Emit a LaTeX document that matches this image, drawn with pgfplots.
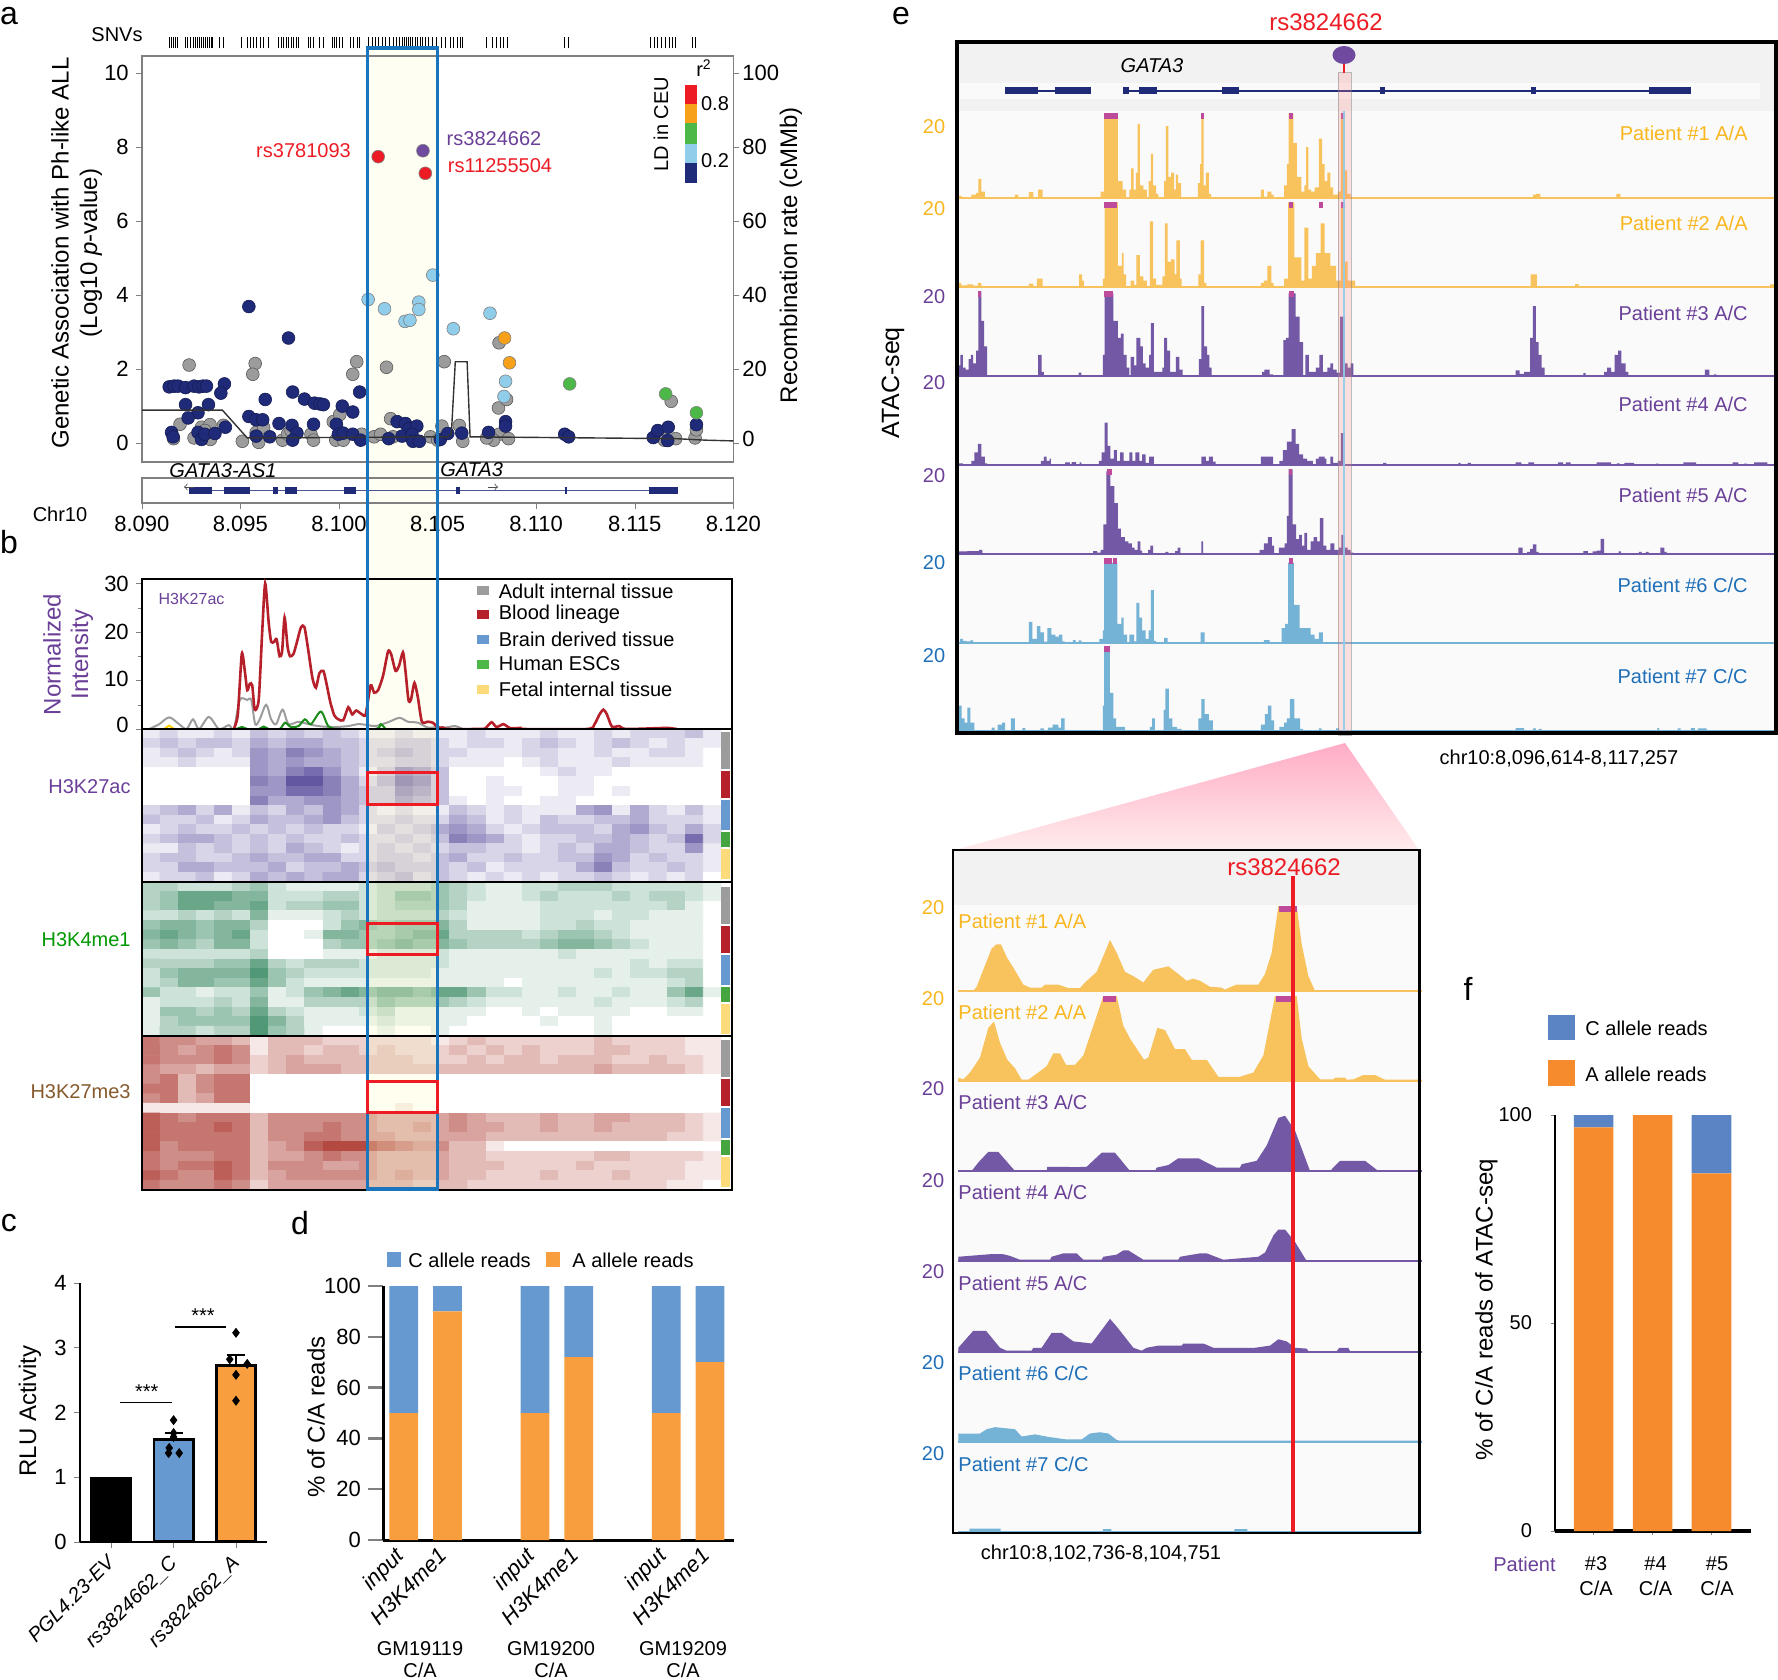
\documentclass[border=0pt]{standalone}
\usepackage{fontspec}
\setmainfont{Liberation Sans}
\usepackage{pgfplots}
\pgfplotsset{compat=1.18}
\definecolor{navy}{HTML}{1F2A78}
\definecolor{gr}{HTML}{9C9C9C}
\definecolor{lb}{HTML}{8FCDEA}
\definecolor{org}{HTML}{F7A11A}
\definecolor{grn}{HTML}{4CB848}
\definecolor{rd}{HTML}{ED1C24}
\definecolor{pur}{HTML}{6F4A9E}
\definecolor{bluebox}{HTML}{1B75BC}
\definecolor{darkred}{HTML}{B5202A}
\definecolor{tyel}{HTML}{F9B61E}
\definecolor{tpur}{HTML}{6A3F98}
\definecolor{tblu}{HTML}{1E6FB8}
\definecolor{fyel}{HTML}{F8C25C}
\definecolor{fpur}{HTML}{7358A5}
\definecolor{fblu}{HTML}{74B3D6}
\definecolor{pkc}{HTML}{BE4A9C}
\definecolor{barb}{HTML}{6699CF}
\definecolor{baro}{HTML}{F89E3F}
\definecolor{barb2}{HTML}{5B84C4}
\definecolor{baro2}{HTML}{F68B2E}
\newcommand\sz[1]{\fontsize{#1}{#1}\selectfont}
\pgfplotsset{
  colormap={hpur}{rgb255=(255,255,255) rgb255=(62,46,140)},
  colormap={hgrn}{rgb255=(255,255,255) rgb255=(8,110,60)},
  colormap={hred}{rgb255=(255,255,255) rgb255=(165,40,30)},
  box/.style n args={4}{at={(#1*0.5pt,-#4*0.5pt)},anchor=south west,
    width={(#3-(#1))*0.5pt},height={(#4-(#2))*0.5pt},scale only axis},
  every axis/.append style={tick label style={font=\sz{10}},
    /pgf/number format/assume math mode=true},
  atac/.style={hide axis,clip=false,ymin=0,ymax=20},
}
\newcommand\pk[2]{\addplot[draw=none,fill=pkc] coordinates {(#1,18.6)(#1,20)(#2,20)(#2,18.6)};}
% base line y in px, colour, coordinates, pink bars
\newcommand\trk[4]{\begin{axis}[atac,box={957}{#1-84.7}{1776}{#1},xmin=150,xmax=1565]
\addplot[const plot,fill=#2,draw=none] coordinates {#3}\closedcycle;
#4
\addplot[#2,line width=1.25pt] coordinates {(150,0)(1565,0)};
\end{axis}}
\newcommand\ztrk[4]{\begin{axis}[atac,box={958.3}{#1-85}{1421.7}{#1},xmin=115,xmax=1505]
\addplot[fill=#2,draw=none] coordinates {#3}\closedcycle;
#4
\addplot[#2,line width=1pt] coordinates {(115,0)(1505,0)};
\end{axis}}
\newcommand\heat[5]{\begin{axis}[hide axis,box={141.8}{#1}{721.4}{#2},xmin=-0.5,xmax=31.5,ymin=-0.5,ymax=15.5,y dir=reverse,
  colormap name=#3,point meta min=0,point meta max=#4]
\addplot[matrix plot*,mesh/cols=32,point meta=explicit] table[row sep=crcr,x expr={mod(\coordindex,32)},y expr={floor((\coordindex+0.5)/32)},meta=v] {v\\
#5};
\end{axis}}
\newcommand\ex[2]{\addplot[navy,line width=3.5pt] coordinates {(#1,0.5)(#2,0.5)};}
\begin{document}
\begin{tikzpicture}[x=0.5pt,y=-0.5pt,tx/.style={inner sep=0pt,font=\sz{10}}]
\path[use as bounding box] (0,0) rectangle (1778,1680);
% highlight band behind a and b
\fill[yellow!5] (367.7,48) rectangle (437.8,729);

% ---- panel a
\begin{axis}[hide axis,box={141.8}{37.5}{733.3}{48},xmin=285,xmax=1474,ymin=0,ymax=1]
\addplot[ycomb,black,line width=0.45pt] table[row sep=crcr,y expr=1] {x\\340\\344\\348\\352\\356\\372\\377\\383\\388\\392\\396\\400\\404\\408\\412\\416\\420\\424\\428\\442\\450\\485\\497\\503\\510\\516\\523\\530\\540\\560\\565\\570\\575\\580\\585\\590\\595\\600\\620\\625\\630\\642\\650\\668\\672\\677\\682\\688\\705\\710\\718\\722\\740\\748\\755\\760\\768\\775\\783\\790\\797\\803\\808\\812\\816\\820\\825\\830\\835\\840\\845\\850\\856\\862\\870\\878\\888\\896\\905\\912\\920\\925\\930\\978\\990\\998\\1005\\1012\\1020\\1134\\1142\\1308\\1315\\1322\\1330\\1338\\1345\\1352\\1358\\1392\\1398\\};
\end{axis}
\begin{axis}[box={141.8}{56}{733.3}{462},xmin=0,xmax=30,ymin=-0.51,ymax=10.46,xtick=\empty,ytick={0,2,...,10},ytick pos=left,
  tick align=outside,major tick length=3pt,axis line style={gray,line width=0.8pt},ytick style={gray},clip=false,tick label style={font=\sz{11}}]
\addplot[only marks,mark=*,mark size=3.2pt,mark options={fill=gr,draw=gray!70!black,line width=0.3pt}] coordinates {
(2.4,2.11)(5.75,2.15)(5.63,1.86)(10.9,2.2)(10.7,1.86)(12.41,2.05)(15.34,2.2)(18.12,2.71)(18.09,.95)(18.5,1.18)(26.85,1.13)
(1.94,.51)(1.61,.12)(2.65,.14)(3.03,.43)(3.46,.5)(3.2,.34)(3.48,.1)(4.14,.48)(5.1,.05)(5.8,.29)(6.18,.42)(5.93,.02)(7.14,.08)
(7.39,.24)(7.57,.34)(8.58,.24)(8.71,.08)(9.71,.58)(10.04,.77)(9.84,.08)(10.22,.08)(11.15,.24)(11.78,.17)(12.11,.24)(12.62,.66)
(12.74,.17)(13.75,.08)(14.64,.17)(15.01,.08)(15.22,.46)(16.1,.48)(16.28,.05)(18.12,.24)(17.84,.08)(17.49,.14)(18.6,.12)
(26.5,.08)(27.08,.12)(28.06,.14)(28.13,.36)};
\addplot[only marks,mark=*,mark size=3.2pt,mark options={fill=navy,draw=navy!70!black,line width=0.3pt}] coordinates {
(1.39,1.52)(1.64,1.54)(1.84,1.54)(2.22,1.5)(2.65,1.54)(2.9,1.52)(3.1,1.54)(3.28,1.54)(4.19,1.6)(4.01,1.35)(2.22,1.04)(3.38,1.04)
(2.85,.82)(2.35,.68)(4.24,.43)(1.51,.29)(1.59,.17)(2.85,.29)(3.03,.1)(3.2,.24)(3.71,.26)(5.43,3.69)(7.44,2.84)(7.65,1.38)(8.25,1.19)
(8.76,1.08)(9.03,1.06)(9.21,1.04)(6.26,1.18)(10.17,1.0)(11.05,1.38)(10.7,.84)(5.43,.72)(5.8,.63)(6.13,.63)(5.8,.19)(6.49,.17)(6.96,.53)
(7.62,.48)(7.87,.27)(7.65,.08)(8.71,.51)(9.87,.51)(9.97,.24)(10.22,.27)(10.7,.24)(11.1,.08)(12.95,.58)(12.52,.12)(13.37,.53)(13.55,.39)
(13.95,.46)(13.2,.19)(13.7,.24)(13.75,.05)(14.08,.05)(15.14,.1)(15.52,.26)(16.23,.27)(17.59,.29)(18.45,.58)(18.45,.46)(21.45,.24)(21.65,.17)
(25.94,.15)(26.17,.34)(26.7,.43)(26.67,.07)(28.13,.5)};
\addplot[only marks,mark=*,mark size=3.2pt,mark options={fill=lb,draw=gray,line width=0.3pt}] coordinates {
(11.48,3.88)(12.31,3.63)(13.35,3.29)(13.6,3.32)(14.05,3.81)(14.05,3.61)(14.76,4.54)(15.8,3.09)(17.66,3.51)(18.45,1.67)(18.37,1.26)};
\addplot[only marks,mark=*,mark size=3.2pt,mark options={fill=org,draw=gray,line width=0.3pt}] coordinates {(18.4,2.84)(18.65,2.17)};
\addplot[only marks,mark=*,mark size=3.2pt,mark options={fill=grn,draw=gray,line width=0.3pt}] coordinates {(21.7,1.6)(26.57,1.33)(28.13,.82)};
\addplot[only marks,mark=*,mark size=3.2pt,mark options={fill=rd,draw=gray,line width=0.3pt}] coordinates {(11.99,7.74)(14.38,7.29)};
\addplot[only marks,mark=*,mark size=3.2pt,mark options={fill=pur,draw=gray,line width=0.3pt}] coordinates {(14.26,7.9)};
\end{axis}
\begin{axis}[box={141.8}{56}{733.3}{462},xmin=0,xmax=30,ymin=-5.1,ymax=104.6,axis x line=none,axis y line*=right,
  ytick={0,20,...,100},yticklabels={\raisebox{4.5pt}{0},20,40,60,80,100},tick align=outside,major tick length=3pt,
  axis line style={gray,line width=0.8pt},ytick style={gray},tick label style={font=\sz{11}},yticklabel style={xshift=-2pt}]
\addplot[black!80,line width=0.7pt] coordinates {(0,8.9)(4.09,8.9)(5.35,1.4)(15.5,1.7)(15.7,2.5)(15.9,22)(16.5,22)(16.65,1.7)(27.1,1.2)(28.6,.8)(30,.6)};
\end{axis}
\begin{axis}[box={141.8}{478}{733.3}{503},xmin=0,xmax=30,ymin=0,ymax=1,ytick=\empty,xtick={0,5,...,30},
  xticklabels={8.090,8.095,8.100,8.105,8.110,8.115,8.120},xtick pos=bottom,tick align=outside,major tick length=3pt,
  axis line style={gray,line width=0.8pt},xtick style={gray},tick label style={font=\sz{11}}]
\addplot[navy!80,line width=0.8pt] coordinates {(2.4,.5)(27.2,.5)};
\ex{2.4}{3.58}\ex{4.16}{5.5}\ex{6.64}{6.89}\ex{7.24}{7.87}\ex{10.27}{10.85}\ex{15.95}{16.12}\ex{21.45}{21.57}\ex{25.71}{27.2}
\end{axis}
\node[tx,font=\sz{10}] at (117,35) {SNVs};
\node[tx,font=\sz{12},rotate=90] at (60,253) {Genetic Association with Ph-like ALL};
\node[tx,font=\sz{12},rotate=90] at (91,253) {(Log10 \textit{p}-value)};
\node[tx,font=\sz{12},rotate=90] at (791,255) {Recombination rate (cMMb)};
\node[tx,text=rd] at (303.5,151) {rs3781093};
\node[tx,text=tpur] at (494,139) {rs3824662};
\node[tx,text=rd] at (500,166) {rs11255504};
\node[tx,font=\sz{10}\itshape] at (223,471) {GATA3-AS1};
\node[tx,font=\sz{10}\itshape] at (471.6,470) {GATA3};
\draw[->,black!70,line width=0.4pt] (194,487)--(184,487);
\draw[->,black!70,line width=0.4pt] (488,487)--(498,487);
\node[tx] at (60,514) {Chr10};
\fill[rd] (685,84.6) rectangle (697,104.3);
\fill[org] (685,104.3) rectangle (697,123.2);
\fill[grn] (685,123.2) rectangle (697,143.6);
\fill[lb] (685,143.6) rectangle (697,163.2);
\fill[navy] (685,163.2) rectangle (697,182.9);
\node[tx] at (715,104) {0.8};
\node[tx] at (715,161) {0.2};
\node[tx] at (704,68) {r\textsuperscript{2}};
\node[tx,rotate=90] at (661,124) {LD in CEU};
\node[tx,font=\sz{16}] at (9,16) {a};
\node[tx,font=\sz{16}] at (9,542) {b};
\node[tx,font=\sz{16}] at (9,1223) {c};
\node[tx,font=\sz{16}] at (300,1223) {d};
\node[tx,font=\sz{16}] at (901,16) {e};
\node[tx,font=\sz{16}] at (1468,989) {f};

% ---- panel b, line chart
\begin{axis}[box={141.8}{578.7}{732.3}{729},xmin=285,xmax=1472,ymin=0,ymax=31,xtick=\empty,ytick={0,10,20,30},
  yticklabels={\raisebox{4.5pt}{0},\raisebox{2pt}{10},20,30},minor ytick={5,15,25},
  ytick pos=left,tick align=outside,major tick length=3pt,minor tick length=2pt,axis line style={line width=1pt},tick label style={font=\sz{11}}]
\addplot[gr,line width=1pt,smooth] coordinates {(300,0)(320,1)(340,2.4)(360,1)(375,0)(388,2)(400,0)(420,2.5)(440,0)(460,.8)(470,0)(482,6)(497,6)(505,6)(513,1)(522,2)(535,5)(545,2)(555,1)(568,4)(580,1)(600,1.5)(620,1)(640,.6)(670,.4)(700,.6)(720,1)(740,.8)(755,.6)(780,1.4)(803,2.3)(820,1.5)(840,1.3)(860,.3)(880,.4)(895,.3)(915,.6)(930,0)};
\addplot[green!50!black!90,line width=1pt,smooth] coordinates {(475,0)(487,.4)(497,0)(520,0)(530,.5)(540,0)(562,0)(573,1.3)(585,.4)(600,.6)(613,2)(625,1)(645,3.6)(660,.6)(680,0)(755,0)(765,1)(775,0)};
\addplot[yellow!70!orange,line width=1pt] coordinates {(330,0)(340,.7)(350,0)};
\addplot[darkred,line width=1.3pt,smooth,tension=0.4] coordinates {(470,0)(478,3)(486,15.5)(492,12)(497,8)(502,9.3)(507,9)(512,4)(520,6)(527,20)(533,30)(540,22)(545,18)(551,18)(556,18.5)(562,15)(567,16)(572,23)(578,17)(583,15)(590,15.5)(597,18)(605,21)(612,21)(620,16)(628,10.5)(635,8.5)(642,11.5)(650,12)(657,9)(664,5.5)(672,2.8)(680,2)(690,1.8)(700,4.5)(708,3)(716,3.8)(728,3)(735,3)(745,9)(752,7.5)(760,8)(770,11)(780,16)(786,15.5)(795,12)(802,13)(810,15.8)(815,12)(821,6)(826,6)(833,9.5)(840,6.5)(848,1.5)(860,1.5)(870,1.3)(880,.3)(890,.3)(900,0)(960,0)(975,.1)(988,1.4)(998,.4)(1012,1)(1025,.2)(1045,.2)(1050,0)(1180,0)(1195,1)(1205,3)(1213,4)(1220,3)(1230,.5)(1245,.6)(1258,0)(1330,.2)(1345,.2)(1360,0)};
\end{axis}
\node[tx,font=\sz{8},text=tpur] at (191.5,599) {H3K27ac};
\node[tx,font=\sz{12},text=tpur,rotate=90] at (52,654.5) {Normalized};
\node[tx,font=\sz{12},text=tpur,rotate=90] at (82,654.5) {Intensity};
\fill[gr] (476.6,586) rectangle (488.6,595);
\fill[darkred] (476.6,610) rectangle (488.6,619);
\fill[barb] (476.6,634.5) rectangle (488.6,643.5);
\fill[grn] (476.6,659.5) rectangle (488.6,668.5);
\fill[yellow!50!orange!50] (476.6,684.5) rectangle (488.6,693.5);
\node[tx,anchor=west] at (498.5,591) {Adult internal tissue};
\node[tx,anchor=west] at (498.5,614.5) {Blood lineage};
\node[tx,anchor=west] at (498.5,639) {Brain derived tissue};
\node[tx,anchor=west] at (498.5,664) {Human ESCs};
\node[tx,anchor=west] at (498.5,689) {Fetal internal tissue};

% ---- heat maps, intensity 0-9 estimated by eye per cell
\heat{729}{882}{hpur}{10}{
1\\2\\1\\1\\2\\1\\3\\2\\3\\2\\3\\2\\1\\1\\2\\1\\1\\1\\2\\1\\1\\1\\2\\1\\1\\2\\1\\2\\2\\2\\3\\1\\
2\\3\\2\\3\\3\\2\\4\\3\\4\\4\\3\\3\\2\\2\\3\\3\\2\\1\\2\\2\\1\\2\\3\\2\\1\\2\\3\\2\\1\\2\\1\\1\\
1\\2\\3\\2\\1\\2\\5\\4\\6\\5\\4\\3\\2\\3\\4\\3\\2\\2\\1\\1\\1\\2\\2\\1\\1\\2\\1\\1\\2\\2\\1\\0\\
1\\1\\2\\1\\1\\1\\5\\4\\5\\4\\4\\3\\2\\2\\3\\3\\2\\1\\1\\1\\0\\1\\2\\1\\1\\1\\2\\1\\1\\1\\1\\0\\
0\\0\\0\\0\\0\\0\\5\\4\\6\\7\\5\\3\\1\\3\\6\\5\\3\\0\\0\\0\\0\\0\\1\\2\\1\\1\\0\\0\\0\\0\\0\\0\\
0\\0\\0\\0\\0\\0\\6\\5\\8\\8\\6\\4\\2\\4\\7\\6\\3\\0\\0\\1\\0\\0\\0\\1\\1\\0\\0\\0\\0\\0\\0\\0\\
0\\0\\0\\0\\0\\0\\5\\5\\7\\7\\6\\4\\3\\3\\6\\5\\3\\0\\0\\1\\1\\0\\0\\1\\1\\0\\1\\0\\0\\0\\0\\0\\
0\\0\\0\\0\\0\\0\\6\\4\\4\\5\\5\\4\\3\\3\\5\\4\\3\\1\\0\\1\\0\\0\\1\\1\\0\\0\\0\\0\\0\\0\\0\\0\\
2\\3\\4\\2\\4\\1\\3\\2\\4\\3\\5\\4\\2\\1\\2\\1\\1\\3\\2\\1\\2\\1\\1\\1\\4\\5\\1\\4\\2\\1\\3\\1\\
3\\2\\2\\3\\1\\2\\4\\3\\3\\4\\5\\3\\2\\2\\3\\2\\2\\4\\3\\1\\2\\1\\3\\2\\2\\3\\3\\4\\2\\2\\2\\1\\
1\\2\\3\\2\\2\\3\\2\\3\\2\\3\\2\\2\\1\\3\\2\\3\\4\\5\\4\\2\\1\\2\\3\\3\\3\\2\\4\\5\\3\\2\\4\\2\\
2\\3\\4\\4\\3\\2\\3\\2\\3\\2\\2\\3\\2\\2\\3\\2\\3\\6\\5\\4\\2\\1\\2\\2\\3\\3\\4\\3\\2\\3\\7\\2\\
1\\1\\3\\2\\3\\2\\3\\2\\4\\3\\2\\1\\2\\3\\2\\3\\2\\3\\3\\2\\2\\1\\2\\3\\2\\4\\4\\3\\2\\2\\5\\1\\
2\\3\\3\\2\\2\\3\\4\\3\\3\\4\\4\\2\\2\\3\\3\\2\\3\\4\\2\\2\\3\\2\\2\\3\\3\\5\\4\\2\\3\\2\\2\\1\\
2\\2\\4\\4\\3\\3\\3\\4\\2\\3\\3\\4\\3\\4\\3\\3\\3\\2\\3\\1\\2\\2\\2\\2\\4\\6\\3\\2\\2\\3\\2\\1\\
1\\2\\2\\3\\1\\2\\4\\3\\4\\3\\4\\4\\2\\3\\4\\2\\3\\2\\1\\2\\1\\2\\1\\2\\2\\3\\2\\1\\2\\1\\2\\0\\
}
\heat{882}{1036}{hgrn}{10}{
3\\3\\2\\2\\2\\3\\4\\2\\1\\1\\1\\1\\2\\3\\3\\3\\4\\3\\2\\1\\1\\2\\2\\3\\3\\3\\2\\2\\2\\2\\2\\1\\
3\\4\\6\\6\\6\\5\\5\\2\\2\\2\\3\\3\\2\\3\\5\\5\\4\\3\\2\\1\\1\\2\\3\\2\\2\\2\\3\\2\\3\\3\\2\\1\\
3\\4\\6\\6\\5\\5\\6\\2\\3\\3\\4\\4\\2\\3\\4\\4\\4\\3\\1\\1\\1\\1\\2\\2\\2\\2\\2\\2\\2\\3\\1\\0\\
2\\2\\3\\2\\3\\2\\5\\1\\1\\1\\2\\3\\2\\3\\3\\3\\3\\2\\1\\1\\1\\1\\2\\2\\2\\1\\2\\2\\1\\1\\1\\0\\
4\\5\\5\\4\\5\\5\\3\\0\\0\\0\\2\\4\\5\\4\\5\\5\\5\\3\\1\\1\\1\\1\\2\\2\\3\\2\\2\\1\\1\\1\\1\\0\\
5\\6\\5\\4\\5\\6\\2\\0\\0\\1\\5\\5\\4\\4\\5\\6\\6\\3\\3\\3\\3\\2\\3\\4\\4\\3\\2\\1\\1\\1\\1\\0\\
4\\5\\4\\3\\5\\5\\2\\0\\0\\0\\3\\4\\4\\5\\6\\5\\5\\4\\3\\3\\3\\3\\4\\5\\5\\4\\3\\2\\1\\1\\1\\0\\
2\\2\\2\\2\\2\\2\\3\\0\\0\\0\\1\\1\\1\\2\\2\\2\\2\\1\\1\\1\\1\\1\\1\\2\\1\\1\\1\\1\\1\\1\\1\\0\\
3\\3\\3\\3\\4\\4\\6\\3\\2\\3\\3\\3\\2\\2\\2\\2\\2\\1\\1\\1\\1\\1\\1\\1\\1\\1\\1\\2\\1\\2\\2\\0\\
2\\4\\5\\5\\5\\5\\7\\4\\3\\2\\2\\2\\2\\2\\2\\2\\1\\1\\1\\1\\1\\1\\1\\1\\1\\2\\1\\2\\2\\3\\3\\0\\
2\\3\\5\\5\\4\\4\\6\\4\\2\\1\\1\\1\\1\\1\\1\\1\\1\\1\\1\\1\\0\\1\\1\\1\\1\\1\\1\\1\\1\\2\\3\\0\\
4\\2\\2\\1\\2\\2\\4\\1\\2\\4\\5\\6\\5\\6\\6\\5\\6\\6\\4\\2\\2\\1\\1\\2\\1\\1\\2\\1\\1\\4\\6\\1\\
1\\2\\2\\2\\3\\2\\5\\1\\1\\3\\3\\3\\3\\5\\4\\4\\4\\3\\2\\1\\1\\1\\1\\1\\1\\2\\1\\1\\1\\2\\3\\0\\
1\\4\\4\\3\\4\\3\\6\\3\\2\\1\\1\\1\\2\\3\\1\\1\\1\\1\\1\\0\\0\\1\\0\\1\\1\\1\\1\\0\\0\\1\\1\\0\\
1\\3\\4\\4\\4\\4\\7\\5\\3\\1\\1\\1\\1\\2\\1\\1\\1\\1\\0\\0\\0\\0\\1\\0\\0\\1\\0\\0\\0\\0\\0\\0\\
1\\3\\3\\2\\3\\3\\7\\4\\3\\1\\0\\0\\0\\1\\0\\0\\1\\0\\0\\0\\0\\0\\0\\0\\0\\1\\0\\0\\0\\0\\0\\0\\
}
\heat{1036}{1190}{hred}{9.5}{
6\\5\\5\\4\\4\\3\\1\\3\\3\\3\\2\\2\\2\\2\\2\\2\\1\\2\\3\\2\\2\\2\\2\\2\\2\\3\\2\\2\\2\\2\\1\\1\\
6\\5\\4\\5\\6\\5\\1\\3\\3\\2\\3\\3\\2\\3\\2\\2\\2\\3\\2\\3\\2\\3\\2\\2\\2\\3\\3\\2\\2\\2\\1\\1\\
6\\5\\5\\5\\6\\5\\2\\3\\4\\3\\3\\3\\3\\3\\3\\2\\2\\2\\3\\2\\3\\3\\2\\3\\3\\3\\2\\2\\3\\2\\2\\1\\
5\\4\\4\\3\\4\\4\\2\\3\\4\\4\\4\\3\\3\\3\\3\\3\\3\\3\\3\\3\\3\\3\\3\\3\\3\\4\\3\\3\\3\\3\\2\\1\\
5\\6\\3\\5\\6\\6\\0\\0\\0\\0\\0\\0\\0\\0\\0\\0\\0\\0\\0\\0\\0\\0\\0\\0\\0\\0\\0\\0\\0\\0\\0\\0\\
6\\6\\3\\5\\6\\6\\0\\0\\0\\0\\0\\0\\0\\0\\0\\0\\0\\0\\0\\0\\0\\0\\0\\0\\0\\0\\0\\0\\0\\0\\0\\0\\
5\\6\\3\\4\\6\\6\\0\\0\\0\\0\\0\\0\\0\\0\\0\\0\\0\\0\\0\\0\\0\\0\\0\\0\\0\\0\\0\\0\\0\\0\\0\\0\\
1\\1\\1\\1\\1\\1\\0\\0\\0\\0\\0\\0\\0\\0\\1\\0\\0\\0\\0\\0\\0\\0\\0\\0\\0\\0\\0\\0\\0\\0\\0\\0\\
7\\6\\5\\6\\6\\6\\3\\5\\5\\5\\5\\5\\5\\4\\4\\4\\4\\5\\4\\3\\3\\3\\4\\3\\3\\4\\4\\3\\3\\3\\2\\1\\
7\\6\\6\\6\\7\\6\\3\\5\\5\\5\\6\\5\\5\\4\\4\\5\\4\\5\\4\\4\\3\\3\\4\\3\\3\\4\\3\\3\\3\\3\\2\\1\\
7\\6\\6\\6\\6\\6\\3\\5\\5\\6\\6\\5\\5\\5\\4\\4\\4\\4\\4\\3\\3\\3\\3\\3\\3\\3\\3\\3\\3\\2\\2\\1\\
7\\5\\6\\6\\6\\6\\3\\4\\5\\7\\8\\8\\8\\7\\6\\5\\5\\3\\3\\1\\0\\0\\0\\0\\0\\0\\0\\0\\0\\0\\0\\0\\
6\\5\\5\\5\\6\\6\\3\\4\\4\\5\\6\\5\\5\\4\\4\\4\\4\\3\\3\\2\\2\\2\\2\\2\\2\\3\\3\\2\\2\\2\\2\\1\\
6\\5\\6\\6\\7\\6\\3\\5\\5\\5\\4\\4\\5\\4\\4\\4\\4\\3\\3\\3\\2\\2\\2\\2\\3\\2\\2\\2\\2\\2\\1\\1\\
7\\6\\5\\5\\7\\6\\3\\4\\5\\5\\5\\5\\5\\4\\5\\4\\4\\3\\3\\2\\2\\2\\3\\2\\2\\2\\3\\2\\2\\2\\1\\1\\
6\\5\\5\\5\\6\\5\\2\\4\\4\\4\\4\\4\\4\\4\\4\\3\\3\\3\\2\\2\\2\\2\\2\\2\\2\\2\\2\\2\\2\\1\\1\\0\\
}
\foreach \o in {0,155,308}{
\fill[gr] (721.4,731.5+\o) rectangle (729.9,769.4+\o);
\fill[darkred] (721.4,771+\o) rectangle (729.9,798+\o);
\fill[barb] (721.4,800+\o) rectangle (729.9,829.6+\o);
\fill[grn!90!black] (721.4,832+\o) rectangle (729.9,847+\o);
\fill[yellow!50!orange!50] (721.4,849+\o) rectangle (729.9,879+\o);
}
\fill[yellow!20,opacity=0.3] (367.7,729) rectangle (437.8,1190);
\draw[line width=1pt] (141.8,729) rectangle (732.3,882);
\draw[line width=1pt] (141.8,882) rectangle (732.3,1036);
\draw[line width=1pt] (141.8,1036) rectangle (732.3,1190);
\draw[bluebox,line width=1.6pt] (367.7,48) rectangle (437.8,1189);
\draw[rd,line width=1.5pt] (367.7,772) rectangle (437.8,804);
\draw[rd,line width=1.5pt] (367.7,923) rectangle (437.8,954.6);
\draw[rd,line width=1.5pt] (367.7,1081.7) rectangle (437.8,1112.4);
\node[tx,anchor=east,text=tpur] at (131,786.6) {H3K27ac};
\node[tx,anchor=east,text=green!60!black] at (131,940) {H3K4me1};
\node[tx,anchor=east,text=brown!70!black] at (131,1092) {H3K27me3};

% ---- panel c
\begin{axis}[box={79.6}{1283}{267}{1541.7},xmin=-0.506,xmax=2.497,ymin=0,ymax=4,axis x line*=bottom,axis y line*=left,
  ytick={0,1,2,3,4},xtick={0,1,2},xticklabels={PGL4.23-EV,rs3824662\_C,rs3824662\_A},
  xticklabel style={rotate=45,anchor=north east,font=\sz{10}\itshape,xshift=-0.7pt,yshift=3.2pt},tick align=outside,major tick length=3pt,
  axis line style={line width=1pt},clip=false,tick label style={font=\sz{11}}]
\addplot[ybar,bar width=0.66,bar shift=0,fill=black,draw=black] coordinates {(0,1)};
\addplot[ybar,bar width=0.63,bar shift=0,fill=barb,draw=black,line width=1.4pt] coordinates {(1,1.58)};
\addplot[ybar,bar width=0.63,bar shift=0,fill=baro,draw=black,line width=1.4pt] coordinates {(2,2.73)};
\addplot[draw=none,error bars/.cd,y dir=plus,y explicit,error bar style={line width=1.2pt,black},error mark options={rotate=90,mark size=4.5pt,line width=1.2pt}] coordinates {(1,1.58)+-(0,0.1)(2,2.73)+-(0,0.16)};
\addplot[only marks,mark=diamond*,mark size=2.2pt,black] coordinates {(1,1.88)(1,1.68)(1,1.62)(0.93,1.45)(0.92,1.37)(1.09,1.37)(2,3.23)(1.9,2.82)(2.18,2.75)(2,2.58)(2,2.18)};
\addplot[black,line width=0.8pt] coordinates {(0.147,2.15)(0.97,2.15)};
\addplot[black,line width=0.8pt] coordinates {(1.03,3.32)(1.846,3.32)};
\end{axis}
\node[tx,font=\sz{12},rotate=90] at (30,1411) {RLU Activity};
\node[tx] at (146.8,1392) {***};
\node[tx] at (203,1316) {***};

% ---- panel d
\begin{axis}[box={383}{1286}{734}{1540},xmin=-0.473,xmax=7.55,ymin=0,ymax=100,ybar stacked,bar width=0.66,axis x line*=bottom,axis y line*=left,
  ytick={0,20,...,100},xtick={0,1,3,4,6,7},xticklabels={input,H3K4me1,input,H3K4me1,input,H3K4me1},
  xticklabel style={rotate=45,anchor=north east,font=\sz{11}\itshape,xshift=3.2pt,yshift=10.2pt},tick align=outside,major tick length=7.5pt,
  xtick style={draw=none},axis line style={line width=1.5pt},ytick style={line width=1.2pt},clip=false,tick label style={font=\sz{11}}]
\addplot[fill=baro,draw=none] coordinates {(0,50)(1,90)(3,50)(4,72)(6,50)(7,70)};
\addplot[fill=barb,draw=none] coordinates {(0,50)(1,10)(3,50)(4,28)(6,50)(7,30)};
\end{axis}
\node[tx,font=\sz{12},rotate=90] at (316,1417) {\% of C/A reads};
\fill[barb] (387,1252) rectangle (401,1267);
\fill[baro] (546,1252) rectangle (560,1267);
\node[tx,anchor=west] at (408,1260) {C allele reads};
\node[tx,anchor=west] at (572,1260) {A allele reads};
\node[tx] at (420,1649) {GM19119};
\node[tx] at (420,1670) {C/A};
\node[tx] at (551,1649) {GM19200};
\node[tx] at (551,1670) {C/A};
\node[tx] at (683,1649) {GM19209};
\node[tx] at (683,1670) {C/A};

% ---- panel e, top browser view; x is a screen column, height in reads
\shade[top color=pink!90!magenta,bottom color=pink!30] (1345,743)--(955,850)--(1419,850)--cycle;
\fill[black!2] (957,42) rectangle (1776,733);
\fill[black!5] (957,42) rectangle (1776,111);
\fill[black!2] (960,83) rectangle (1760,99);
\begin{axis}[hide axis,box={957}{82}{1776}{100},xmin=150,xmax=1565,ymin=0,ymax=1]
\addplot[navy,line width=0.7pt] coordinates {(233,.5)(1418,.5)};
\addplot[black!2,line width=0.9pt] coordinates {(381,.5)(437,.5)};
\ex{233}{290}\ex{319}{381}\ex{437}{448}\ex{465}{496}\ex{608}{637}\ex{880}{890}\ex{1141}{1151}\ex{1346}{1418}
\end{axis}
\trk{198}{fyel}{(150,.5)(158,.2)(175,.8)(183,1.2)(187,4.5)(192,1.5)(198,0)(250,.8)(256,0)(274,1.4)(282,0)(290,2)(298,0)(398,1.5)(404,20)(428,4)(436,2)(442,0)(448,2)(451,7)(455,2)(459,6)(462,17.5)(466,3)(472,2)(478,0)(481,4)(485,10.5)(489,3)(494,1)(498,0)(508,4)(511,17)(515,5)(520,6)(525,2)(528,5.5)(532,3.5)(537,0)(566,3.5)(570,8)(572,19.5)(576,3)(580,6)(585,1)(589,0)(675,2)(680,.3)(686,1.5)(693,.8)(697,0)(715,3)(720,8)(723,20)(731,13)(737,5)(745,1.5)(750,3)(753,12)(757,2)(762,1.5)(768,2.5)(775,14)(781,8)(785,4)(790,6)(795,2.5)(800,.8)(808,1.5)(813,19.5)(820,6.5)(824,1)(830,0)(1145,.8)(1150,1)(1158,0)(1289,1)(1296,0)(1565,0)}{\pk{404}{428}\pk{572}{576}\pk{723}{730}\pk{814}{820}}
\trk{287}{fyel}{(150,1)(157,.4)(168,.6)(178,.3)(186,1)(192,0)(274,.8)(282,0)(288,2)(298,0)(361,3)(366,1.5)(369,0)(402,2)(405,20)(428,5)(435,8)(438,3)(442,0)(450,1.5)(456,.5)(460,7.5)(466,2.5)(472,1.5)(478,0)(483,15.5)(489,2)(494,.5)(505,2.5)(509,15)(514,6)(520,6.5)(526,3)(529,11)(535,2)(538,0)(567,3)(571,11)(577,1)(581,0)(675,1)(680,1.5)(686,5)(693,1)(697,0)(715,2)(722,20)(733,7)(745,1.5)(750,14)(757,2)(763,5)(770,8)(778,15)(785,8)(795,5)(805,1.5)(813,19)(820,6)(825,1.5)(833,1.5)(838,0)(1141,3)(1152,0)(1218,.7)(1224,0)(1555,.6)(1565,0)}{\pk{404}{427}\pk{723}{730}\pk{776}{782}\pk{813}{820}}
\trk{376}{fpur}{(150,2.5)(156,5)(160,2)(165,1.5)(170,4)(174,5)(178,3)(183,6)(187,20)(192,13)(197,7)(202,0)(290,5)(296,1)(300,0)(360,.8)(365,0)(402,5)(405,19.5)(420,13)(425,13)(428,9)(433,10)(438,5)(443,2)(448,0)(450,4.5)(456,2.5)(460,9)(467,7)(471,3)(476,2)(482,5)(485,12.5)(490,1)(495,1)(505,2)(508,9)(513,6)(518,1)(528,4.5)(534,1.5)(540,0)(568,4)(572,16.5)(577,7)(582,5)(586,2)(590,0)(677,1)(681,1.5)(690,.4)(696,0)(714,8.5)(718,9)(723,19.5)(735,14)(742,8)(748,0)(752,5)(758,1)(770,2)(776,5)(782,1)(790,2)(795,3)(800,1.5)(806,.8)(812,14)(820,3)(825,2)(830,3)(835,0)(1115,1.3)(1122,.5)(1130,1)(1140,9)(1145,16.5)(1150,8)(1155,5)(1160,2)(1165,0)(1232,.7)(1236,0)(1268,1)(1273,2)(1280,1)(1286,5)(1292,6)(1298,3)(1305,1)(1310,0)(1442,1.5)(1450,0)(1458,.4)(1462,0)(1565,0)}{\pk{187}{191}\pk{404}{420}\pk{723}{733}}
\trk{465}{fpur}{(150,.4)(160,0)(175,1)(180,3)(186,5)(192,2)(198,.4)(202,0)(295,1)(300,2)(305,1)(310,1.5)(312,0)(337,.6)(345,0)(348,.7)(356,0)(362,.6)(365,0)(395,1)(400,3)(405,10)(410,4.5)(415,1.5)(421,3.5)(426,1)(432,3)(438,1)(448,3)(453,1)(458,3)(465,1)(470,2.5)(476,.5)(482,2)(490,0)(572,2)(580,1)(585,2)(592,.8)(597,0)(675,2)(696,0)(707,1)(713,3.5)(720,5.5)(728,8.5)(735,5)(741,2.5)(748,1.5)(755,1)(765,0)(770,1.5)(775,2)(785,1.5)(788,0)(795,2)(800,.5)(808,1)(813,7.5)(820,0)(886,.5)(892,0)(1016,.5)(1020,0)(1032,.5)(1038,0)(1115,.6)(1125,0)(1137,.6)(1147,0)(1188,.6)(1197,0)(1202,.6)(1210,0)(1255,.6)(1280,0)(1290,.4)(1295,0)(1303,.5)(1320,0)(1358,.3)(1362,0)(1405,.6)(1427,0)(1490,.6)(1500,0)(1510,.3)(1515,0)(1527,.6)(1550,0)(1565,0)}{}
\trk{554}{fpur}{(150,.6)(168,.7)(188,1)(194,0)(385,.7)(392,.3)(398,1)(403,7)(408,19.5)(415,16)(422,12)(428,6)(433,4)(440,3)(446,2.5)(452,1.5)(457,1)(462,3)(467,.8)(470,0)(480,1)(484,2)(489,0)(510,.5)(515,0)(527,.7)(531,1.5)(536,0)(572,3)(575,0)(673,1)(680,2.5)(687,4)(694,2)(698,0)(706,1.5)(716,2.5)(720,9)(723,20)(730,7)(736,3.5)(741,4.5)(746,2)(750,5)(755,1)(761,3)(766,4)(772,3)(777,8.5)(783,2)(788,1)(795,2.5)(802,1)(810,1.5)(814,4.5)(820,1.5)(825,1)(830,.3)(835,0)(1120,1.5)(1127,0)(1135,.5)(1140,1.2)(1145,2.3)(1151,.5)(1155,0)(1232,.7)(1240,0)(1248,.6)(1255,.8)(1262,3.6)(1268,0)(1293,.6)(1297,0)(1328,.5)(1333,0)(1340,.5)(1345,0)(1365,1.5)(1372,.5)(1376,0)(1565,0)}{\pk{409}{417}\pk{723}{728}}
\trk{643}{fblu}{(155,1)(160,.5)(166,.4)(173,.6)(178,0)(274,5)(280,1)(288,4)(294,2.5)(300,.3)(306,3.5)(313,2)(320,1.5)(326,2)(332,.4)(336,0)(350,.7)(355,0)(360,.6)(365,0)(396,1)(402,3)(404,19)(427,4.5)(434,6)(438,2)(444,0)(448,2)(456,.4)(460,9.5)(465,6)(470,3)(476,1)(481,3)(485,12.5)(490,.5)(494,0)(508,1.2)(514,0)(571,2.5)(578,0)(680,.7)(690,0)(711,3.5)(717,4.5)(722,19)(732,9)(742,3.5)(750,3.5)(761,2)(768,1)(775,2.5)(782,0)(1565,0)}{\pk{404}{417}\pk{420}{426}\pk{723}{730}}
\trk{731}{fblu}{(152,6)(158,3)(163,2)(168,5.5)(173,2)(180,0)(210,.8)(215,0)(220,1.5)(228,2)(233,0)(243,3)(250,0)(263,.7)(268,0)(294,.6)(300,0)(307,.8)(315,1.5)(325,.8)(330,3)(336,0)(402,6)(404,20)(414,9)(420,3)(425,1)(440,0)(483,1)(487,3)(492,0)(507,5)(510,10)(516,3)(522,1)(530,.5)(538,0)(567,3)(572,7.5)(578,4)(585,2.5)(592,0)(675,1.5)(682,4)(687,6)(693,2.5)(698,0)(707,1)(715,2)(720,3)(725,7.5)(733,3)(743,.5)(748,0)(775,.6)(780,0)(805,.6)(810,0)(1115,.7)(1130,0)(1145,.6)(1150,0)(1155,.5)(1160,0)(1360,.7)(1363,0)(1395,.6)(1400,0)(1418,.7)(1425,0)(1430,.6)(1445,0)(1565,0)}{\pk{404}{414}}
\fill[red!45,opacity=0.25] (1338,73) rectangle (1351,735);
\draw[gray,opacity=0.5,line width=0.5pt] (1338,73) rectangle (1351,735);
\draw[lb,line width=0.8pt,opacity=0.9] (1344,111) -- (1344,735);
\draw[rd,line width=1pt] (1344,60) -- (1344,73);
\fill[pur] (1344,55) ellipse (11.5 and 9);
\draw[line width=1.6pt] (957,42) rectangle (1776,733);
\node[tx,text=rd,font=\sz{12}] at (1326,22) {rs3824662};
\node[tx,font=\sz{10}\itshape] at (1152,66) {GATA3};
\node[tx,rotate=90,font=\sz{12.5}] at (893,383) {ATAC-seq};
\foreach \y/\c in {127/tyel,209/tyel,297/tpur,383/tpur,476/tpur,563/tblu,656/tblu}
  \node[tx,text=\c] at (934,\y) {20};
\node[tx,anchor=east,text=tyel] at (1748,133) {Patient \#1 A/A};
\node[tx,anchor=east,text=tyel] at (1748,223) {Patient \#2 A/A};
\node[tx,anchor=east,text=tpur] at (1748,313) {Patient \#3 A/C};
\node[tx,anchor=east,text=tpur] at (1748,404) {Patient \#4 A/C};
\node[tx,anchor=east,text=tpur] at (1748,495) {Patient \#5 A/C};
\node[tx,anchor=east,text=tblu] at (1748,585) {Patient \#6 C/C};
\node[tx,anchor=east,text=tblu] at (1748,676) {Patient \#7 C/C};
\node[tx] at (1559,759) {chr10:8,096,614-8,117,257};

% ---- panel e, zoomed view
\fill[black!2] (953,850) rectangle (1419.5,1533);
\fill[black!5] (953,850) rectangle (1419.5,905);
\ztrk{991}{fyel}{(115,0)(160,0)(170,1)(190,5)(215,10)(230,11)(243,11)(260,8)(280,5.5)(310,1.5)(330,.8)(365,.8)(375,1.5)(415,1.5)(445,.7)(480,.7)(495,2)(530,4.5)(570,12)(590,9)(615,4.5)(640,3.5)(670,2)(700,5)(745,5.8)(775,4)(800,2.4)(820,2.9)(840,2.4)(870,1)(905,.8)(915,.3)(930,.9)(950,1.5)(1015,1.5)(1035,4)(1055,9)(1075,20)(1130,20)(1145,11)(1165,3.5)(1185,0)(1505,0)}{\pk{1076}{1132}}
\ztrk{1081}{fyel}{(115,.8)(130,.4)(150,2)(180,5.5)(205,12.5)(222,14)(240,9)(262,5)(285,3)(305,.3)(325,.3)(355,2)(380,3.5)(400,6.5)(420,6.5)(438,3.8)(465,3.8)(490,6)(520,13)(550,20)(590,20)(610,13)(630,10)(672,5)(685,5.5)(712,12.5)(735,12)(765,7.5)(795,7.5)(815,5)(860,5)(895,1)(960,1)(1000,2)(1030,6)(1065,20)(1130,20)(1145,10)(1165,3.5)(1200,.4)(1240,.4)(1245,.8)(1275,.8)(1280,.3)(1300,.4)(1330,1.4)(1365,1.4)(1395,.3)(1505,.3)}{\pk{550}{587}\pk{1068}{1114}}
\ztrk{1171}{fpur}{(115,0)(155,0)(175,2)(205,4.5)(235,4.5)(285,0)(380,0)(382,1)(425,1)(465,.9)(500,1)(545,4.3)(585,4.3)(630,0)(705,0)(710,.8)(745,1.4)(775,3)(835,3)(890,.8)(960,.8)(965,1.6)(1010,2.4)(1040,6)(1075,12.5)(1095,13)(1125,9.5)(1170,0)(1230,0)(1260,2.4)(1335,2.4)(1375,0)(1505,0)}{}
\ztrk{1261}{fpur}{(115,1)(210,1.6)(250,1.6)(270,1.2)(300,.3)(390,.3)(395,1)(430,1.8)(470,1.8)(490,.3)(545,.3)(550,1)(590,1.5)(610,2.5)(625,2.5)(670,.3)(775,.3)(780,1)(840,1.8)(860,1.8)(910,.3)(1015,1)(1035,2)(1060,6)(1075,7.4)(1095,7.4)(1125,4.5)(1160,0)(1505,0)}{}
\ztrk{1352}{fpur}{(115,1)(160,5)(198,5)(240,1)(260,.3)(335,.3)(340,1)(365,1)(395,4.5)(425,4.5)(460,2.5)(515,2)(570,7.8)(590,6)(640,1)(665,.3)(680,1)(715,1.5)(785,1.5)(790,2)(850,2)(880,1)(1005,1)(1050,1.5)(1075,3)(1100,2.5)(1125,1)(1160,.8)(1165,.2)(1250,.2)(1258,1)(1285,1)(1290,.2)(1505,.2)}{}
\ztrk{1442}{fblu}{(115,2)(180,2)(200,3)(225,3.5)(285,3)(305,1.3)(345,1.8)(385,1.2)(440,.6)(485,.6)(510,2)(540,2.3)(565,2)(590,.5)(600,.3)(1505,.3)}{}
\ztrk{1532}{fblu}{(115,0)(148,0)(148,.8)(242,.8)(242,0)(549,0)(549,.7)(574,.7)(574,0)(943,0)(943,.7)(982,.7)(982,0)(1505,0)}{}
\draw[rd,line width=1.7pt] (1293,876) -- (1293,1532);
\draw[line width=1.4pt] (953,850) rectangle (1419.5,1533);
\node[tx,text=rd,font=\sz{12}] at (1284,867) {rs3824662};
\foreach \y/\c in {908/tyel,999/tyel,1089/tpur,1181/tpur,1272/tpur,1363/tblu,1454/tblu}
  \node[tx,text=\c] at (933,\y) {20};
\node[tx,anchor=west,text=tyel] at (958,921) {Patient \#1 A/A};
\node[tx,anchor=west,text=tyel] at (958,1012) {Patient \#2 A/A};
\node[tx,anchor=west,text=tpur] at (958,1102) {Patient \#3 A/C};
\node[tx,anchor=west,text=tpur] at (958,1192) {Patient \#4 A/C};
\node[tx,anchor=west,text=tpur] at (958,1283) {Patient \#5 A/C};
\node[tx,anchor=west,text=tblu] at (958,1373) {Patient \#6 C/C};
\node[tx,anchor=west,text=tblu] at (958,1464) {Patient \#7 C/C};
\node[tx] at (1101,1554) {chr10:8,102,736-8,104,751};

% ---- panel f
\begin{axis}[box={1555}{1115}{1751}{1531},xmin=-0.653,xmax=2.67,ymin=0,ymax=100,ybar stacked,bar width=0.67,axis x line*=bottom,axis y line*=left,
  ytick={0,50,100},xtick={0,1,2},xticklabels=\empty,tick align=outside,major tick length=2pt,yticklabel style={xshift=-6pt},
  axis line style={line width=0.8pt},x axis line style={line width=1.6pt},clip=false]
\addplot[fill=baro2,draw=none] coordinates {(0,97)(1,100)(2,86)};
\addplot[fill=barb2,draw=none] coordinates {(0,3)(1,0)(2,14)};
\end{axis}
\node[tx,font=\sz{12},rotate=90] at (1486.5,1310) {\% of C/A reads of ATAC-seq};
\node[tx,anchor=east,text=tpur] at (1556,1564) {Patient};
\foreach \x/\n in {1596/3,1655.6/4,1717/5}{
  \node[tx] at (\x,1564) {\#\n};
  \node[tx] at (\x,1588) {C/A};}
\fill[barb2] (1548,1015) rectangle (1575,1040);
\fill[baro2] (1548,1060) rectangle (1575,1086);
\node[tx,anchor=west] at (1585,1028) {C allele reads};
\node[tx,anchor=west] at (1585,1074) {A allele reads};
\end{tikzpicture}
\end{document}
